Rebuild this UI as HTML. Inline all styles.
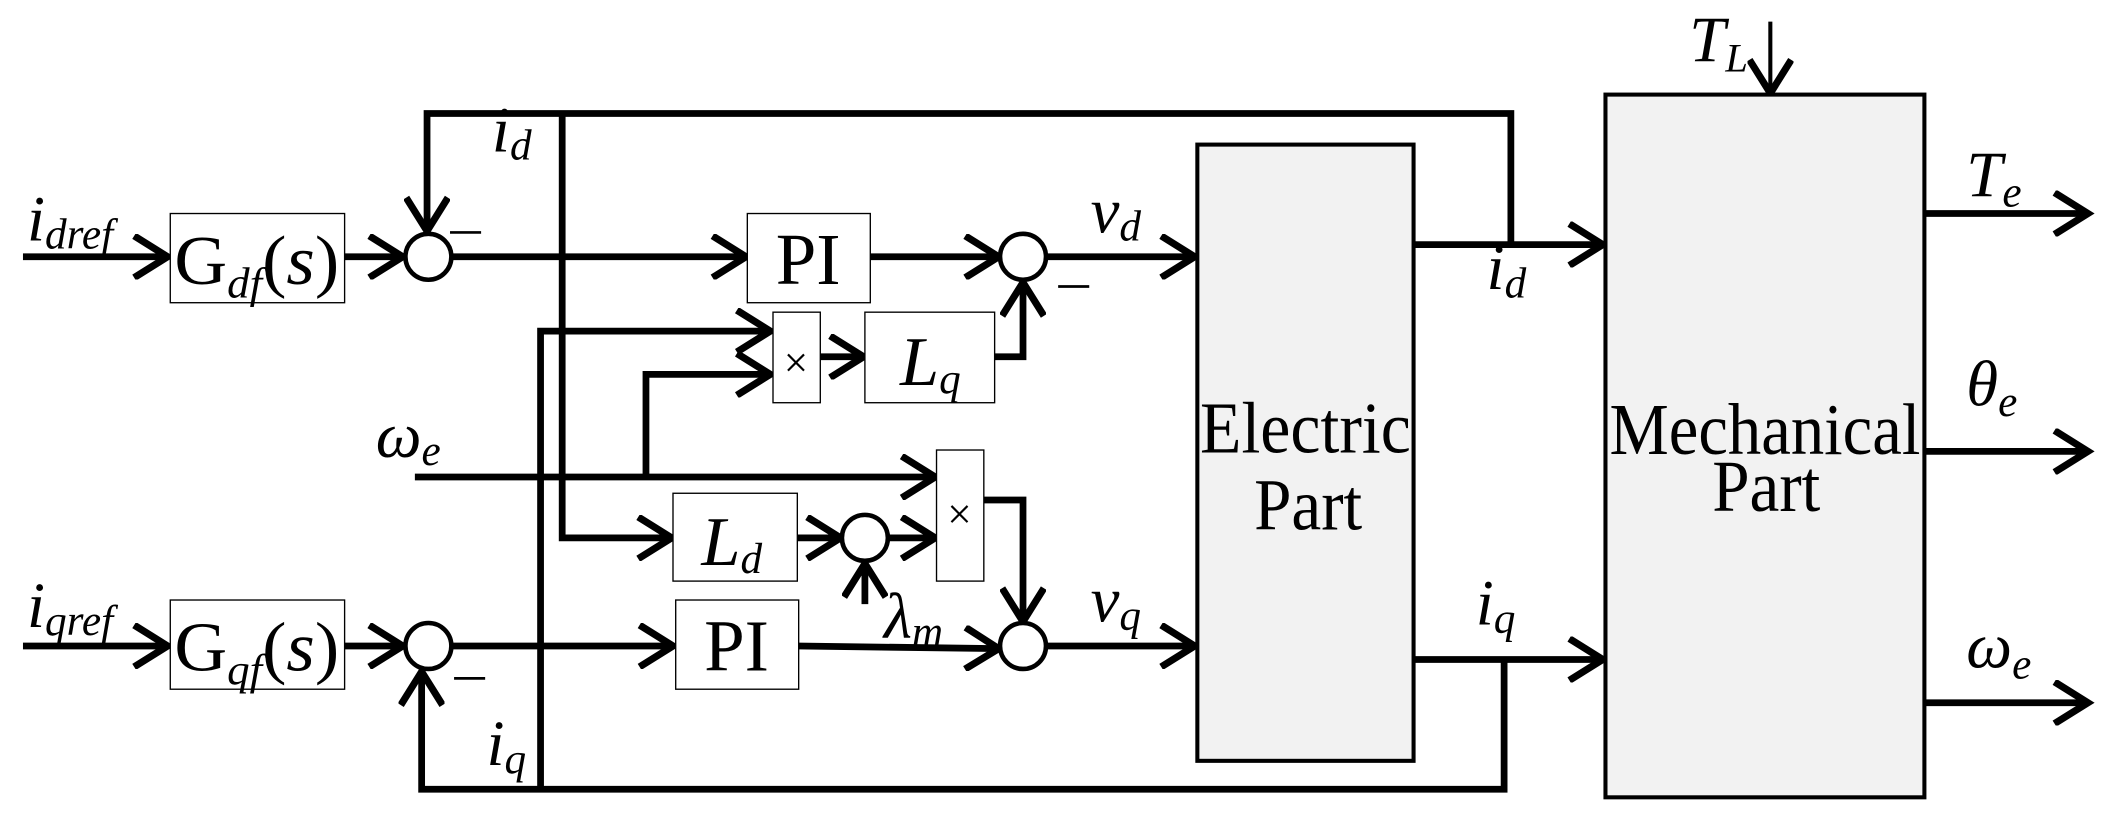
<!DOCTYPE html>
<html><head><meta charset="utf-8"><style>
html,body{margin:0;padding:0;background:#fff;}
svg{display:block;}
text{font-family:"Liberation Serif",serif;fill:#000;}
.i{font-style:italic;}
</style></head><body>
<svg width="2119" height="833" viewBox="0 0 1568 616.4" preserveAspectRatio="none" xmlns="http://www.w3.org/2000/svg">
<defs>
<marker id="a" markerUnits="userSpaceOnUse" markerWidth="34" markerHeight="34" refX="18" refY="11" orient="auto" viewBox="0 0 22 22">
<path d="M2,1 L18,11 L2,21" fill="none" stroke="#000" stroke-width="3.4"/>
</marker>
</defs>
<g fill="none" stroke="#000" stroke-width="5">
<polyline points="1118,181 1118,84 316,84 316,171" marker-end="url(#a)"/>
<polyline points="416,84 416,398 497,398" marker-end="url(#a)"/>
<line x1="17" y1="190" x2="124" y2="190" marker-end="url(#a)"/>
<line x1="255" y1="190" x2="298" y2="190" marker-end="url(#a)"/>
<line x1="335" y1="190" x2="552" y2="190" marker-end="url(#a)"/>
<line x1="644" y1="190" x2="739" y2="190" marker-end="url(#a)"/>
<line x1="775" y1="190" x2="884" y2="190" marker-end="url(#a)"/>
<line x1="1046" y1="181" x2="1186" y2="181" marker-end="url(#a)"/>
<line x1="1046" y1="488" x2="1186" y2="488" marker-end="url(#a)"/>
<polyline points="1113,488 1113,584 312,584 312,497" marker-end="url(#a)"/>
<polyline points="400,584 400,245 570,245" marker-end="url(#a)"/>
<line x1="307" y1="353" x2="692" y2="353" marker-end="url(#a)"/>
<polyline points="478,353 478,277 570,277" marker-end="url(#a)"/>
<line x1="607" y1="264" x2="639" y2="264" marker-end="url(#a)"/>
<polyline points="736,264 757,264 757,209" marker-end="url(#a)"/>
<line x1="590" y1="398" x2="622" y2="398" marker-end="url(#a)"/>
<line x1="658" y1="398" x2="692" y2="398" marker-end="url(#a)"/>
<line x1="640" y1="447" x2="640" y2="417" marker-end="url(#a)"/>
<polyline points="728,370 757,370 757,460" marker-end="url(#a)"/>
<line x1="17" y1="478" x2="124" y2="478" marker-end="url(#a)"/>
<line x1="255" y1="478" x2="298" y2="478" marker-end="url(#a)"/>
<line x1="335" y1="478" x2="498" y2="478" marker-end="url(#a)"/>
<line x1="591" y1="478" x2="739" y2="480" marker-end="url(#a)"/>
<line x1="775" y1="478" x2="884" y2="478" marker-end="url(#a)"/>
<line x1="1310" y1="16" x2="1310" y2="69" stroke-width="3" marker-end="url(#a)"/>
<line x1="1424" y1="158" x2="1545" y2="158" marker-end="url(#a)"/>
<line x1="1424" y1="334" x2="1545" y2="334" marker-end="url(#a)"/>
<line x1="1424" y1="520" x2="1545" y2="520" marker-end="url(#a)"/>
</g>
<g fill="#fff" stroke="#000" stroke-width="3.4">
<ellipse cx="317" cy="190" rx="17" ry="17"/>
<ellipse cx="757" cy="190" rx="17" ry="17"/>
<ellipse cx="317" cy="478" rx="17" ry="17"/>
<ellipse cx="757" cy="478" rx="17" ry="17"/>
<ellipse cx="640" cy="398" rx="17" ry="17"/>
</g>
<g fill="#fff" stroke="#000" stroke-width="1">
<rect x="126" y="158" width="129" height="66"/>
<rect x="126" y="444" width="129" height="66"/>
<rect x="553" y="158" width="91" height="66"/>
<rect x="500" y="444" width="91" height="66"/>
<rect x="572" y="231" width="35" height="67"/>
<rect x="640" y="231" width="96" height="67"/>
<rect x="693" y="333" width="35" height="97"/>
<rect x="498" y="365" width="92" height="65"/>
</g>
<g fill="#f2f2f2" stroke="#000" stroke-width="3">
<rect x="886" y="107" width="160" height="456"/>
<rect x="1188" y="70" width="236" height="520"/>
</g>
<g font-size="52">
<text x="129" y="210" textLength="122" lengthAdjust="spacingAndGlyphs">G<tspan class="i" font-size="32" dy="10">df</tspan><tspan dy="-10">(</tspan><tspan class="i">s</tspan>)</text>
<text x="129" y="496" textLength="122" lengthAdjust="spacingAndGlyphs">G<tspan class="i" font-size="32" dy="10">qf</tspan><tspan dy="-10">(</tspan><tspan class="i">s</tspan>)</text>
<text x="598" y="210" text-anchor="middle" font-size="54">PI</text>
<text x="545" y="496" text-anchor="middle" font-size="54">PI</text>
<text x="666" y="285" class="i">L<tspan font-size="32" dy="6">q</tspan></text>
<text x="519" y="418" class="i">L<tspan font-size="32" dy="6">d</tspan></text>
<text x="888" y="335" font-size="54" textLength="156" lengthAdjust="spacingAndGlyphs">Electric</text>
<text x="928" y="392" font-size="54" textLength="80" lengthAdjust="spacingAndGlyphs">Part</text>
<text x="1191" y="336" font-size="54" textLength="230" lengthAdjust="spacingAndGlyphs">Mechanical</text>
<text x="1267" y="378" font-size="54" textLength="80" lengthAdjust="spacingAndGlyphs">Part</text>
</g>
<g font-size="32">
<text x="589" y="279" text-anchor="middle">×</text>
<text x="710" y="391" text-anchor="middle">×</text>
</g>
<g font-size="48" class="i">
<text x="20" y="178">i<tspan font-size="32" dy="6">dref</tspan></text>
<text x="20" y="464">i<tspan font-size="32" dy="6">qref</tspan></text>
<text x="364" y="112">i<tspan font-size="32" dy="6">d</tspan></text>
<text x="360" y="566">i<tspan font-size="32" dy="6">q</tspan></text>
<text x="807" y="172">v<tspan font-size="32" dy="6">d</tspan></text>
<text x="807" y="460">v<tspan font-size="32" dy="6">q</tspan></text>
<text x="1100" y="214">i<tspan font-size="32" dy="6">d</tspan></text>
<text x="1092" y="462">i<tspan font-size="32" dy="6">q</tspan></text>
<text x="278" y="338">ω<tspan font-size="32" dy="6">e</tspan></text>
<text x="654" y="472">λ<tspan font-size="32" dy="6">m</tspan></text>
<text x="1250" y="45">T<tspan font-size="30" dy="8">L</tspan></text>
<text x="1455" y="145">T<tspan font-size="32" dy="8">e</tspan></text>
<text x="1455" y="300">θ<tspan font-size="32" dy="8">e</tspan></text>
<text x="1455" y="494">ω<tspan font-size="32" dy="8">e</tspan></text>
</g>
<g stroke="#000" stroke-width="2">
<line x1="333" y1="172" x2="356" y2="172"/>
<line x1="783" y1="212" x2="806" y2="212"/>
<line x1="336" y1="502" x2="359" y2="502"/>
</g>
</svg>
</body></html>
